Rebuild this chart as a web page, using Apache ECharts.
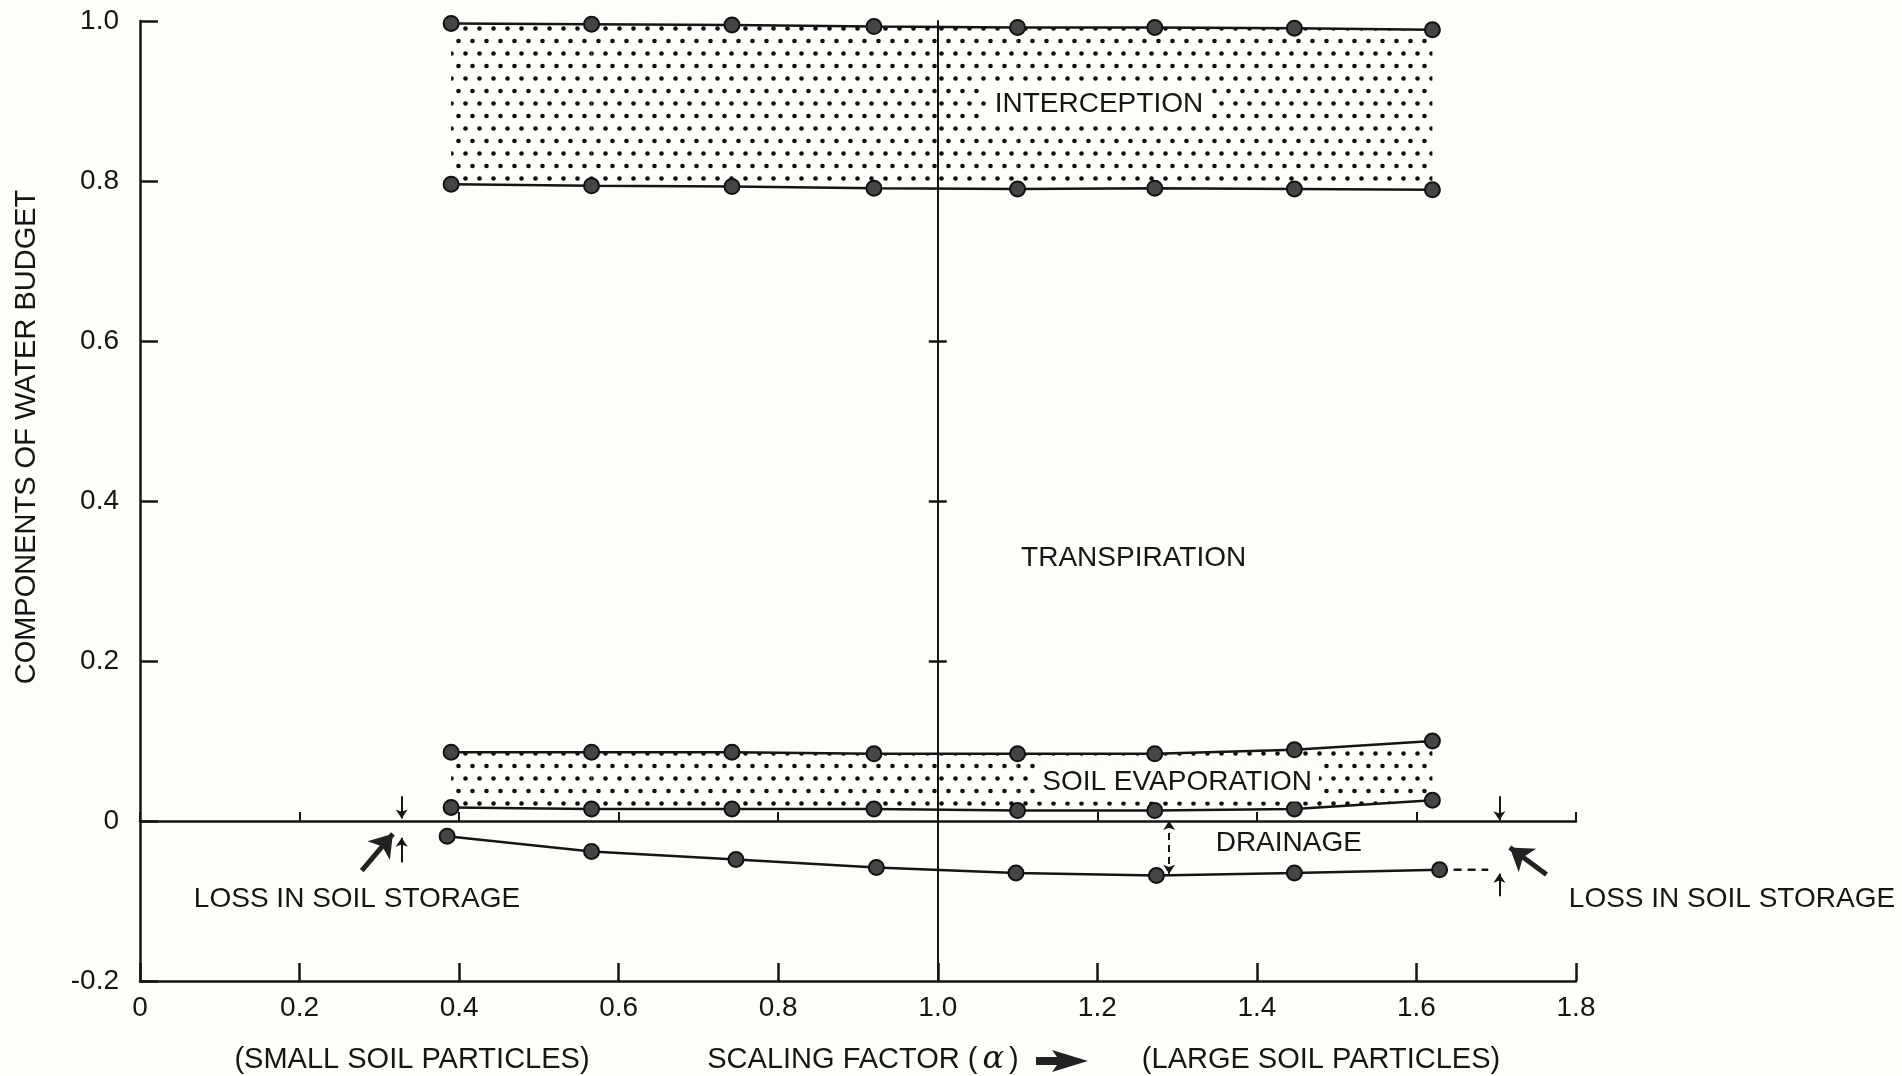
<!DOCTYPE html>
<html>
<head>
<meta charset="utf-8">
<script src="https://cdn.jsdelivr.net/npm/echarts@6/dist/echarts.min.js"></script>
<style>
html,body{margin:0;padding:0;background:#fdfdf9;}
#c{width:1902px;height:1076px;}
</style>
</head>
<body>
<div id="c"></div>
<script>
// ---------- data ----------
const xTickLabels = ['0', '0.2', '0.4', '0.6', '0.8', '1.0', '1.2', '1.4', '1.6', '1.8'];
const yTickLabels = ['-0.2', '0', '0.2', '0.4', '0.6', '0.8', '1.0'];

const alphaX = [0.39, 0.566, 0.742, 0.92, 1.10, 1.272, 1.447, 1.62];
const drainageX = [0.385, 0.566, 0.747, 0.923, 1.098, 1.274, 1.447, 1.629];

const interceptionTop    = [0.997, 0.996, 0.995, 0.993, 0.992, 0.992, 0.991, 0.989];
const interceptionBottom = [0.796, 0.794, 0.793, 0.791, 0.790, 0.791, 0.790, 0.789];
const soilEvapTop        = [0.086, 0.086, 0.086, 0.084, 0.084, 0.084, 0.089, 0.100];
const soilEvapBottom     = [0.017, 0.015, 0.015, 0.015, 0.013, 0.013, 0.015, 0.026];
const drainage           = [-0.019, -0.038, -0.048, -0.058, -0.065, -0.068, -0.065, -0.061];

// loss in soil storage markers (alpha positions) and dashed extension end
const storageLossX = [0.328, 1.704];
const storageDashEndX = 1.69;

// ---------- styling ----------
const INK = '#151515';
const BG = '#fdfdf9';
const FONT = 'Liberation Sans';

function dotPattern() {
  const c = document.createElement('canvas');
  c.width = 14; c.height = 25;
  const g = c.getContext('2d');
  g.fillStyle = '#0d0d0d';
  [[3.5, 3.5], [10.5, 16]].forEach(function (p) {
    g.beginPath(); g.arc(p[0], p[1], 2.3, 0, Math.PI * 2); g.fill();
  });
  return c;
}
const PATTERN = { image: dotPattern(), repeat: 'repeat' };

function bandSeries(name, top, bottom) {
  const segs = [];
  for (let i = 0; i < alphaX.length - 1; i++) {
    segs.push([alphaX[i], top[i], bottom[i], alphaX[i + 1], top[i + 1], bottom[i + 1]]);
  }
  return {
    type: 'custom', name: name, z: 1, silent: true,
    data: segs,
    encode: { x: [0, 3], y: [1, 2, 4, 5] },
    renderItem: function (params, api) {
      const pts = [
        api.coord([api.value(0), api.value(1)]),
        api.coord([api.value(3), api.value(4)]),
        api.coord([api.value(3), api.value(5)]),
        api.coord([api.value(0), api.value(2)])
      ];
      return { type: 'polygon', shape: { points: pts }, style: { fill: PATTERN, stroke: null } };
    }
  };
}

function lineSeries(name, xs, ys) {
  return {
    type: 'line', name: name, z: 3, silent: true,
    data: xs.map(function (x, i) { return [x, ys[i]]; }),
    symbol: 'circle', symbolSize: 15, showSymbol: true,
    lineStyle: { color: INK, width: 2.5 },
    itemStyle: { color: '#454545', borderColor: '#111', borderWidth: 2 }
  };
}

const last = drainage.length - 1;
const smallArrows = [
  [[storageLossX[0], 0.031], [storageLossX[0], 0.003]],
  [[storageLossX[0], -0.052], [storageLossX[0], -0.021]],
  [[storageLossX[1], 0.031], [storageLossX[1], 0.001]],
  [[storageLossX[1], -0.094], [storageLossX[1], -0.066]]
];
const bigArrows = [
  [[0.278, -0.062], [0.317, -0.016]],
  [[1.763, -0.067], [1.717, -0.033]]
];
const gaugeArrow = [[[1.29, 0.0], [1.29, -0.066]]];

const axisFont = { fontSize: 28, fontFamily: FONT, color: INK };

const chart = echarts.init(document.getElementById('c'), null, { renderer: 'canvas', width: 1902, height: 1076 });

const option = {
  backgroundColor: BG,
  animation: false,
  grid: { left: 140, top: 21, width: 1436, height: 960, containLabel: false, outerBoundsMode: 'none' },
  xAxis: [
    {
      type: 'value', min: 0, max: 1.8, interval: 0.2, position: 'bottom',
      axisLine: { onZero: false, lineStyle: { color: INK, width: 2.5 } },
      axisTick: { inside: true, length: 18, lineStyle: { color: INK, width: 2.5 } },
      axisLabel: Object.assign({ margin: 13, formatter: function (v) { return xTickLabels[Math.round(v / 0.2)]; } }, axisFont),
      splitLine: { show: false }
    },
    {
      type: 'value', min: 0, max: 1.8, interval: 0.2, position: 'bottom',
      axisLine: { onZero: true, onZeroAxisIndex: 0, lineStyle: { color: INK, width: 2.5 } },
      axisTick: { inside: true, length: 9, lineStyle: { color: INK, width: 2 } },
      axisLabel: { show: false },
      splitLine: { show: false }
    }
  ],
  yAxis: [
    {
      type: 'value', min: -0.2, max: 1.0, interval: 0.2, position: 'left',
      axisLine: { show: true, onZero: false, lineStyle: { color: INK, width: 2.5 } },
      axisTick: { inside: true, length: 18, lineStyle: { color: INK, width: 2.5 } },
      axisLabel: Object.assign({ margin: 21, formatter: function (v) { return yTickLabels[Math.round((v + 0.2) / 0.2)]; } }, axisFont),
      splitLine: { show: false }
    },
    {
      type: 'value', min: -0.2, max: 1.0, interval: 0.2, position: 'left', offset: 0,
      axisLine: { show: true, onZero: false, lineStyle: { color: INK, width: 2 } },
      axisTick: { show: true, inside: true, length: 9, customValues: [0.2, 0.4, 0.6], lineStyle: { color: INK, width: 2.5 } },
      axisLabel: { show: false },
      splitLine: { show: false }
    },
    {
      type: 'value', min: -0.2, max: 1.0, interval: 0.2, position: 'left', offset: 0,
      axisLine: { show: false, onZero: false },
      axisTick: { show: true, inside: false, length: 9, customValues: [0.2, 0.4, 0.6], lineStyle: { color: INK, width: 2.5 } },
      axisLabel: { show: false },
      splitLine: { show: false }
    }
  ],
  series: [
    bandSeries('Interception', interceptionTop, interceptionBottom),
    bandSeries('Soil evaporation', soilEvapTop, soilEvapBottom),
    lineSeries('Interception top', alphaX, interceptionTop),
    lineSeries('Interception bottom', alphaX, interceptionBottom),
    lineSeries('Soil evaporation top', alphaX, soilEvapTop),
    lineSeries('Soil evaporation bottom', alphaX, soilEvapBottom),
    lineSeries('Drainage', drainageX, drainage),
    {
      type: 'line', name: 'storage loss', z: 2, silent: true, symbol: 'none',
      data: [[drainageX[last], drainage[last]], [storageDashEndX, drainage[last]]],
      lineStyle: { color: INK, width: 2.5, type: [8, 6] }
    },
    {
      type: 'lines', coordinateSystem: 'cartesian2d', silent: true, z: 4,
      data: smallArrows.map(function (c) { return { coords: c }; }),
      symbol: ['none', 'arrow'], symbolSize: 9,
      lineStyle: { color: INK, width: 2, opacity: 1 }
    },
    {
      type: 'lines', coordinateSystem: 'cartesian2d', silent: true, z: 4,
      data: bigArrows.map(function (c) { return { coords: c }; }),
      symbol: ['none', 'arrow'], symbolSize: 22,
      lineStyle: { color: '#222', width: 5, opacity: 1 }
    },
    {
      type: 'lines', coordinateSystem: 'cartesian2d', silent: true, z: 4,
      data: gaugeArrow.map(function (c) { return { coords: c }; }),
      symbol: ['arrow', 'arrow'], symbolSize: 9,
      lineStyle: { color: INK, width: 2, type: [7, 5], opacity: 1 }
    }
  ]
};

chart.setOption(option);

// vertical reference line at alpha = 1.0 (drawn as an offset axis)
const x1px = chart.convertToPixel({ xAxisIndex: 0 }, 1.0);
const leftPx = chart.convertToPixel({ xAxisIndex: 0 }, 0);
const off = -(x1px - leftPx);
chart.setOption({ yAxis: [{}, { offset: off }, { offset: off }] });

// annotations
const notes = [
  { text: 'INTERCEPTION', at: [1.202, 0.896], box: true },
  { text: 'TRANSPIRATION', at: [1.2455, 0.328] },
  { text: 'SOIL EVAPORATION', at: [1.300, 0.048], box: true },
  { text: 'DRAINAGE', at: [1.440, -0.028] },
  { text: 'LOSS IN SOIL STORAGE', at: [0.272, -0.098] },
  { text: 'LOSS IN SOIL STORAGE', at: [1.9955, -0.098] }
];

const graphics = notes.map(function (n) {
  const p = chart.convertToPixel({ xAxisIndex: 0, yAxisIndex: 0 }, n.at);
  const style = {
    text: n.text, fontSize: 28, fontFamily: FONT, fill: INK,
    align: 'center', verticalAlign: 'middle'
  };
  if (n.box) { style.backgroundColor = BG; style.padding = [5, 7]; }
  return { type: 'text', x: p[0], y: p[1], z: 100, style: style, silent: true };
});

// axis titles
graphics.push({
  type: 'text', x: 27, y: 437, rotation: Math.PI / 2, z: 100, silent: true,
  style: { text: 'COMPONENTS OF WATER BUDGET', fontSize: 29, fontFamily: FONT, fill: INK, align: 'center', verticalAlign: 'middle' }
});
graphics.push({
  type: 'text', x: 412, y: 1060, z: 100, silent: true,
  style: { text: '(SMALL SOIL PARTICLES)', fontSize: 29, fontFamily: FONT, fill: INK, align: 'center', verticalAlign: 'middle' }
});
graphics.push({
  type: 'text', x: 863, y: 1060, z: 100, silent: true,
  style: {
    text: '{n|SCALING FACTOR (}{a|α}{n|)}',
    align: 'center', verticalAlign: 'middle',
    rich: {
      n: { fontSize: 29, fontFamily: FONT, fill: INK, color: INK },
      a: { fontSize: 32, fontFamily: 'DejaVu Serif', fontStyle: 'italic', fill: INK, color: INK, padding: [0, 5] }
    }
  }
});
graphics.push({
  type: 'polygon', z: 100, silent: true,
  shape: { points: [[1036, 1057], [1057, 1057], [1052, 1050], [1088, 1061], [1052, 1072], [1057, 1065], [1036, 1065]] },
  style: { fill: '#222' }
});
graphics.push({
  type: 'text', x: 1321, y: 1060, z: 100, silent: true,
  style: { text: '(LARGE SOIL PARTICLES)', fontSize: 29, fontFamily: FONT, fill: INK, align: 'center', verticalAlign: 'middle' }
});

chart.setOption({ graphic: graphics });
</script>
</body>
</html>
